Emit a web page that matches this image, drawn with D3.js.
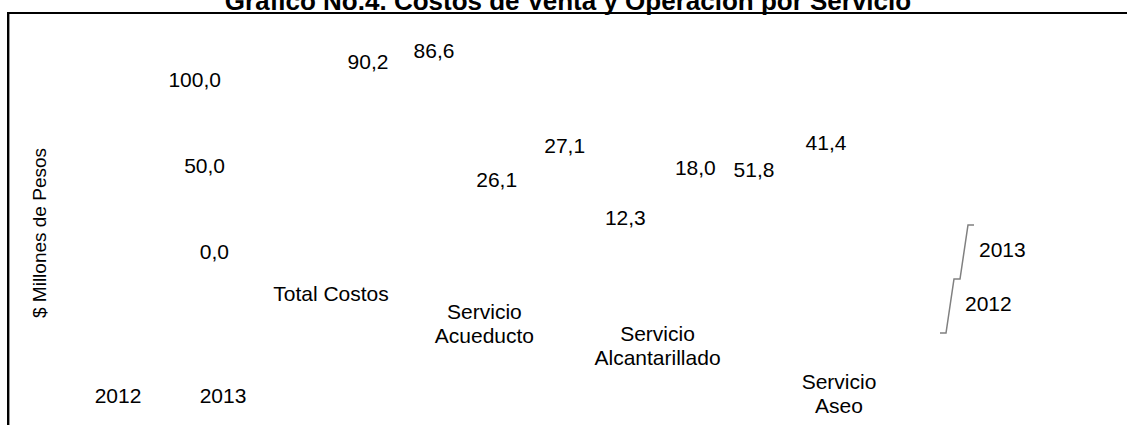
<!DOCTYPE html>
<html>
<head>
<meta charset="utf-8">
<script src="https://cdn.jsdelivr.net/npm/d3@7"></script>
<style>
  html, body { margin: 0; padding: 0; background: #fff; }
  svg text { font-family: "Liberation Sans", Arial, sans-serif; fill: #000; }
</style>
</head>
<body>
<div id="chart"></div>
<script>
// ---------------- data ----------------
var categories = ["Total Costos", "Servicio Acueducto", "Servicio Alcantarillado", "Servicio Aseo"];
var series = ["2012", "2013"];
var values2012 = [90.2, 26.1, 12.3, 51.8];
var values2013 = [86.6, 27.1, 18.0, 41.4];
var yTicks = [0, 50, 100];
var chartTitle = "Gráfico No.4. Costos de Venta y Operación por Servicio";
var yTitle = "$ Millones de Pesos";

var W = 1127, H = 425;
var fs = 21;

var locale = d3.formatLocale({decimal: ",", thousands: ".", grouping: [3], currency: ["$", ""]});
var fmt = locale.format(".1f");

var svg = d3.select("#chart").append("svg")
    .attr("width", W)
    .attr("height", H);

// ---------------- "3d" projection scales ----------------
// category position along the floor, one per series (back row is shifted right/up)
var xCat = {
    "2012": d3.scaleLinear().domain([0, 3]).range([368, 754]),
    "2013": d3.scaleLinear().domain([0, 3]).range([434, 826])
};
var yFloor = {
    "2012": d3.scaleLinear().domain([0, 3]).range([213, 260]),
    "2013": d3.scaleLinear().domain([0, 3]).range([184, 210])
};
// bar height per unit (back row is a bit smaller)
var yLen = {
    "2012": d3.scaleLinear().domain([0, 100]).range([0, 160]),
    "2013": d3.scaleLinear().domain([0, 100]).range([0, 145])
};

// value axis on the left wall
var yAxis = d3.scaleLinear().domain([0, 100]).range([259, 87]);
var xAxisEnd = d3.scaleLinear().domain([0, 100]).range([229, 221]);

// category labels along the front edge
var xCatLabel = d3.scalePow().exponent(1.09).domain([0, 3]).range([331, 839]);
var yCatLabel = d3.scaleLinear().domain([0, 1, 2, 3]).range([301, 319, 341, 389]);

// depth axis labels (bottom)
var xDepth = d3.scalePoint().domain(series).range([118, 223]);

// legend
var legLevel = d3.scaleLinear().domain([0, 2]).range([333, 225]);
var legX = d3.scaleLinear().domain([0, 2]).range([940, 968]);

// ---------------- frame ----------------
svg.append("line")
    .attr("x1", 8).attr("x2", W)
    .attr("y1", 13).attr("y2", 13)
    .attr("stroke", "#000").attr("stroke-width", 2);
svg.append("line")
    .attr("x1", 8).attr("x2", 8)
    .attr("y1", 12).attr("y2", H)
    .attr("stroke", "#000").attr("stroke-width", 2);
svg.append("line")
    .attr("x1", 9.5).attr("x2", 9.5)
    .attr("y1", 14).attr("y2", H)
    .attr("stroke", "#999").attr("stroke-width", 1);

// ---------------- title ----------------
svg.append("text")
    .attr("x", 568)
    .attr("y", 9.5)
    .attr("text-anchor", "middle")
    .style("font-size", "26px")
    .style("font-weight", "bold")
    .text(chartTitle);

// ---------------- y title ----------------
svg.append("text")
    .attr("transform", "translate(46,233) rotate(-90)")
    .attr("text-anchor", "middle")
    .style("font-size", "19px")
    .text(yTitle);

// ---------------- value axis ticks ----------------
svg.selectAll("text.ytick")
    .data(yTicks)
    .enter()
    .append("text")
    .attr("class", "ytick")
    .attr("x", function(d) { return xAxisEnd(d); })
    .attr("y", function(d) { return yAxis(d); })
    .attr("text-anchor", "end")
    .style("font-size", fs + "px")
    .text(function(d) { return fmt(d); });

// ---------------- data labels ----------------
var points = [];
series.forEach(function(s) {
    var vals = s === "2012" ? values2012 : values2013;
    vals.forEach(function(v, i) {
        points.push({series: s, idx: i, value: v});
    });
});

svg.selectAll("text.val")
    .data(points)
    .enter()
    .append("text")
    .attr("class", "val")
    .attr("x", function(d) { return xCat[d.series](d.idx); })
    .attr("y", function(d) { return yFloor[d.series](d.idx) - yLen[d.series](d.value); })
    .attr("text-anchor", "middle")
    .style("font-size", fs + "px")
    .text(function(d) { return fmt(d.value); });

// ---------------- category labels ----------------
categories.forEach(function(c, i) {
    var lines = c.indexOf("Servicio ") === 0 ? ["Servicio", c.slice(9)] : [c];
    var t = svg.append("text")
        .attr("class", "cat")
        .attr("text-anchor", "middle")
        .attr("y", yCatLabel(i))
        .style("font-size", fs + "px");
    lines.forEach(function(l, j) {
        t.append("tspan")
            .attr("x", xCatLabel(i))
            .attr("dy", j === 0 ? 0 : 24)
            .text(l);
    });
});

// ---------------- depth axis labels ----------------
svg.selectAll("text.depth")
    .data(series)
    .enter()
    .append("text")
    .attr("class", "depth")
    .attr("x", function(d) { return xDepth(d); })
    .attr("y", 403)
    .attr("text-anchor", "middle")
    .style("font-size", fs + "px")
    .text(function(d) { return d; });

// ---------------- legend ----------------
var legPts = [];
for (var k = 0; k <= series.length; k++) {
    legPts.push([legX(k), legLevel(k)]);
    legPts.push([legX(k) + 6, legLevel(k)]);
}
svg.append("path")
    .attr("d", d3.line()(legPts))
    .attr("fill", "none")
    .attr("stroke", "#808080")
    .attr("stroke-width", 1.5);

svg.selectAll("text.leg")
    .data(series)
    .enter()
    .append("text")
    .attr("class", "leg")
    .attr("x", function(d, i) { return legX(i + 0.5) + 18; })
    .attr("y", function(d, i) { return legLevel(i + 0.5) + 5; })
    .style("font-size", fs + "px")
    .text(function(d) { return d; });
</script>
</body>
</html>
